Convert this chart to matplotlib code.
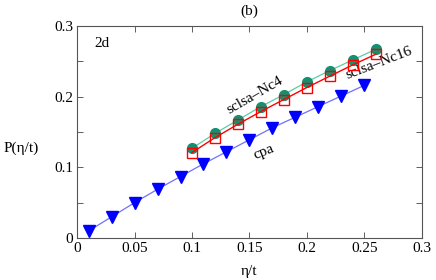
import numpy as np
import matplotlib
matplotlib.use("Agg")
import matplotlib.pyplot as plt
from matplotlib.ticker import FixedFormatter, FixedLocator

plt.rcParams['font.family'] = ['Liberation Serif', 'DejaVu Serif']

# cpa
eta_cpa = [0.01, 0.03, 0.05, 0.07, 0.09, 0.11, 0.13, 0.15, 0.17, 0.19, 0.21, 0.23, 0.25]
p_cpa = [0.010, 0.030, 0.050, 0.069, 0.087, 0.105, 0.122, 0.139, 0.156, 0.171, 0.186, 0.201, 0.216]

# sclsa Nc4 / Nc16
eta_sc = [0.10, 0.12, 0.14, 0.16, 0.18, 0.20, 0.22, 0.24, 0.26]
p_nc4 = [0.127, 0.148, 0.167, 0.186, 0.203, 0.221, 0.237, 0.252, 0.267]
p_nc16 = [0.121, 0.142, 0.161, 0.179, 0.196, 0.213, 0.229, 0.245, 0.260]

xticks = [0, 0.05, 0.1, 0.15, 0.2, 0.25, 0.3]
xlabels = ['0', '0.05', '0.1', '0.15', '0.2', '0.25', '0.3']
yticks = [0, 0.05, 0.1, 0.15, 0.2, 0.25, 0.3]
ylabels = ['0', '', '0.1', '', '0.2', '', '0.3']

fig = plt.figure(figsize=(4.36, 2.80), dpi=100)
ax = fig.add_axes([0.177, 0.150, 0.790, 0.757])

ax.plot(eta_cpa, p_cpa, '-', color='#7070ff', lw=0.9, zorder=2)
ax.plot(eta_cpa, p_cpa, 'v', color='#0000ff', ms=8, zorder=3)

ax.plot(eta_sc, p_nc4, '-', color='#5ccca5', lw=0.9, zorder=2)
ax.plot(eta_sc, p_nc4, 'o', color='#149070', ms=7, zorder=3)

ax.plot(eta_sc, p_nc16, '-', color='#ff0000', lw=1.0, zorder=4)
ax.plot(eta_sc, p_nc16, 's', mfc='none', mec='#ff0000', mew=1.0, ms=7, zorder=5)

ax.set_xlim(0, 0.3)
ax.set_ylim(0, 0.3)
ax.xaxis.set_major_locator(FixedLocator(xticks))
ax.xaxis.set_major_formatter(FixedFormatter(xlabels))
ax.yaxis.set_major_locator(FixedLocator(yticks))
ax.yaxis.set_major_formatter(FixedFormatter(ylabels))
ax.tick_params(direction='in', top=True, right=True, length=4, width=0.6,
               labelsize=11, color='#444444', pad=3)
for s in ax.spines.values():
    s.set_color('#555555')
    s.set_linewidth(0.8)

ax.set_xlabel('η/t', fontsize=11, labelpad=7)
ax.set_ylabel('P(η/t)', fontsize=11, rotation=0, va='center', ha='center')
ax.yaxis.set_label_coords(-0.162, 0.425)
ax.set_title('(b)', fontsize=11, pad=8)

ax.text(0.015, 0.270, '2d', fontsize=11)
ax.text(0.128, 0.176, 'sclsa–Nc4', fontsize=11, rotation=30)
ax.text(0.232, 0.226, 'sclsa–Nc16', fontsize=11, rotation=21)
ax.text(0.152, 0.112, 'cpa', fontsize=11, rotation=22)

fig.savefig('out.png', dpi=100)
